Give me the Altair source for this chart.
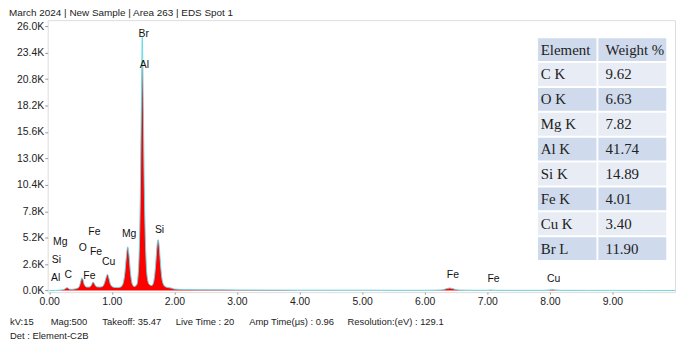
import altair as alt
import pandas as pd

# ---------------- data ----------------
energy = [0.00, 0.10, 0.20, 0.24, 0.27, 0.29, 0.32, 0.36, 0.40, 0.44, 0.48, 0.50, 0.52, 0.54, 0.56,
          0.60, 0.64, 0.67, 0.70, 0.72, 0.75, 0.80, 0.85, 0.88, 0.91, 0.93, 0.95, 0.98, 1.02, 1.08,
          1.14, 1.18, 1.21, 1.235, 1.255, 1.275, 1.30, 1.33, 1.36, 1.40, 1.43, 1.455, 1.47, 1.487,
          1.505, 1.52, 1.545, 1.57, 1.60, 1.64, 1.67, 1.70, 1.72, 1.74, 1.76, 1.78, 1.81, 1.85, 1.90,
          1.95, 2.00, 2.20, 2.50, 3.00, 3.50, 4.00, 4.50, 5.00, 5.50, 6.00, 6.25, 6.33, 6.40, 6.47,
          6.55, 6.80, 7.00, 7.06, 7.12, 7.50, 7.90, 8.00, 8.04, 8.08, 8.20, 8.60, 9.00, 9.50, 10.00]
counts = [0, 20, 60, 120, 260, 280, 150, 120, 150, 200, 400, 800, 1250, 1100, 600,
          350, 350, 500, 850, 700, 400, 350, 400, 700, 1300, 1600, 1300, 600, 350, 300,
          350, 700, 1800, 3500, 4300, 3500, 1700, 600, 400, 600, 2500, 9000, 17000, 22300,
          17500, 10000, 3500, 1200, 600, 500, 900, 2500, 4200, 5000, 4200, 2500, 900, 400, 300,
          250, 150, 100, 80, 60, 50, 40, 40, 40, 30, 30, 50, 150, 260, 150,
          50, 30, 30, 60, 30, 25, 25, 60, 110, 60, 25, 20, 20, 15, 10]
outline = [0, 20, 60, 120, 260, 280, 150, 120, 150, 200, 400, 800, 1250, 1100, 600,
           350, 350, 500, 850, 700, 400, 350, 400, 700, 1300, 1600, 1300, 600, 350, 300,
           350, 700, 1800, 3500, 4300, 3500, 1700, 600, 400, 600, 2500, 9000, 17000, 24900,
           17500, 10000, 3500, 1200, 600, 500, 900, 2500, 4200, 5000, 4200, 2500, 900, 400, 300,
           250, 150, 100, 80, 60, 50, 40, 40, 40, 30, 30, 50, 150, 260, 150,
           50, 30, 30, 60, 30, 25, 25, 60, 110, 60, 25, 20, 20, 15, 10]

peak_labels = ["Br", "Al", "Si", "Mg", "Cu", "Fe", "Fe", "O", "Fe", "C", "Al", "Si", "Mg", "Fe", "Fe", "Cu"]
peak_energy = [1.51, 1.52, 1.763, 1.277, 0.948, 0.722, 0.749, 0.536, 0.642, 0.304, 0.103, 0.114, 0.178, 6.45, 7.10, 8.06]
peak_height = [25200, 22200, 5950, 5530, 2770, 5750, 3800, 4160, 1460, 1530, 1210, 2990, 4780, 1560, 1170, 1170]

elements = ["Element", "C K", "O K", "Mg K", "Al K", "Si K", "Fe K", "Cu K", "Br L"]
weights = ["Weight %", "9.62", "6.63", "7.82", "41.74", "14.89", "4.01", "3.40", "11.90"]

x_ticks = [0, 1, 2, 3, 4, 5, 6, 7, 8, 9]
y_ticks = [0, 2600, 5200, 7800, 10400, 13000, 15600, 18200, 20800, 23400, 26000]

title_text = "March 2024 | New Sample | Area 263 | EDS Spot 1"
footer_items = ["kV:15", "Mag:500", "Takeoff: 35.47", "Live Time : 20", "Amp Time(μs) : 0.96",
                "Resolution:(eV) : 129.1"]
footer2 = "Det : Element-C2B"

# ---------------- build ----------------
SANS = "Liberation Sans"

spec = pd.DataFrame({"energy": energy, "counts": counts, "outline": outline})
xs = alt.Scale(domain=[-0.024, 10.0], nice=False, zero=False)
ys = alt.Scale(domain=[-150, 26600], nice=False, zero=False)

x_axis = alt.Axis(values=x_ticks, format=".2f", title=None, grid=False, domain=False,
                  tickSize=2, tickColor="#999", labelPadding=2, labelFontSize=10.5,
                  labelFont=SANS, labelColor="#222", labelOverlap=False)
y_axis = alt.Axis(values=y_ticks, labelExpr="format(datum.value/1000,'.1f')+'K'", title=None,
                  grid=False, domain=False, tickSize=3, tickColor="#999", labelPadding=1,
                  labelFontSize=10.5, labelFont=SANS, labelColor="#222", labelOverlap=False)

area = alt.Chart(spec).mark_area(color="#ff0000", interpolate="monotone", opacity=1).encode(
    x=alt.X("energy:Q", scale=xs, axis=x_axis),
    y=alt.Y("counts:Q", scale=ys, axis=y_axis),
)
line = alt.Chart(spec).mark_line(color="#6ad9e2", strokeWidth=1, interpolate="monotone").encode(
    x=alt.X("energy:Q", scale=xs, axis=x_axis),
    y=alt.Y("outline:Q", scale=ys, axis=y_axis),
)

lab_df = pd.DataFrame({"label": peak_labels, "e": peak_energy, "h": peak_height})
labels = alt.Chart(lab_df).mark_text(font=SANS, fontSize=10.5, color="#111",
                                     baseline="middle", align="center").encode(
    x=alt.X("e:Q", scale=xs, axis=x_axis), y=alt.Y("h:Q", scale=ys, axis=y_axis), text="label:N")

# table (in data coordinates of the plot)
row_top0 = 24830
row_step = 2447
row_h = 2250
rows = []
for i, (el, w) in enumerate(zip(elements, weights)):
    top = row_top0 - i * row_step
    shade = "dark" if i % 2 == 0 else "light"
    rows.append({"el": el, "w": w, "top": top, "bot": top - row_h, "mid": top - row_h / 2,
                 "shade": shade, "xl0": 7.81, "xl1": 8.745, "xr0": 8.775, "xr1": 9.86,
                 "tl": 7.855, "tr": 8.89})
tab = pd.DataFrame(rows)
shade_scale = alt.Scale(domain=["dark", "light"], range=["#cfdaed", "#e8ecf5"])
rect_l = alt.Chart(tab).mark_rect().encode(
    x=alt.X("xl0:Q", scale=xs, axis=x_axis), x2="xl1:Q",
    y=alt.Y("top:Q", scale=ys, axis=y_axis), y2="bot:Q",
    color=alt.Color("shade:N", scale=shade_scale, legend=None))
rect_r = alt.Chart(tab).mark_rect().encode(
    x=alt.X("xr0:Q", scale=xs, axis=x_axis), x2="xr1:Q",
    y=alt.Y("top:Q", scale=ys, axis=y_axis), y2="bot:Q",
    color=alt.Color("shade:N", scale=shade_scale, legend=None))
txt_l = alt.Chart(tab).mark_text(font="Liberation Serif", fontSize=15, color="#222",
                                 align="left", baseline="middle").encode(
    x=alt.X("tl:Q", scale=xs, axis=x_axis), y=alt.Y("mid:Q", scale=ys, axis=y_axis), text="el:N")
txt_r = alt.Chart(tab).mark_text(font="Liberation Serif", fontSize=15, color="#222",
                                 align="left", baseline="middle").encode(
    x=alt.X("tr:Q", scale=xs, axis=x_axis), y=alt.Y("mid:Q", scale=ys, axis=y_axis), text="w:N")

# title and footer (pixel offsets relative to plot origin)
title = alt.Chart(pd.DataFrame({"t": [title_text]})).mark_text(
    font=SANS, fontSize=10, color="#222", align="left", baseline="top").encode(
    x=alt.value(-39), y=alt.value(-12), text="t:N")

footer_x = [-38, 3, 55, 129, 203, 302]
footer_layers = []
for txt, fx in zip(footer_items, footer_x):
    footer_layers.append(alt.Chart(pd.DataFrame({"t": [txt]})).mark_text(
        font=SANS, fontSize=9.5, color="#222", align="left", baseline="middle").encode(
        x=alt.value(fx), y=alt.value(304), text="t:N"))
footer_layers.append(alt.Chart(pd.DataFrame({"t": [footer2]})).mark_text(
    font=SANS, fontSize=9.5, color="#222", align="left", baseline="middle").encode(
    x=alt.value(-38), y=alt.value(318), text="t:N"))

chart = alt.layer(area, line, labels, rect_l, rect_r, txt_l, txt_r, title, *footer_layers).properties(
    width=632, height=274,
    autosize=alt.AutoSizeParams(type="none"),
    padding={"left": 40, "top": 11, "right": 2, "bottom": 47},
).configure_view(stroke="#a9cbe6", strokeWidth=1.5).configure_axis(
    labelOverlap=False
).configure(background="white")

chart.save("out.html", embed_options={"renderer": "svg", "actions": False})
